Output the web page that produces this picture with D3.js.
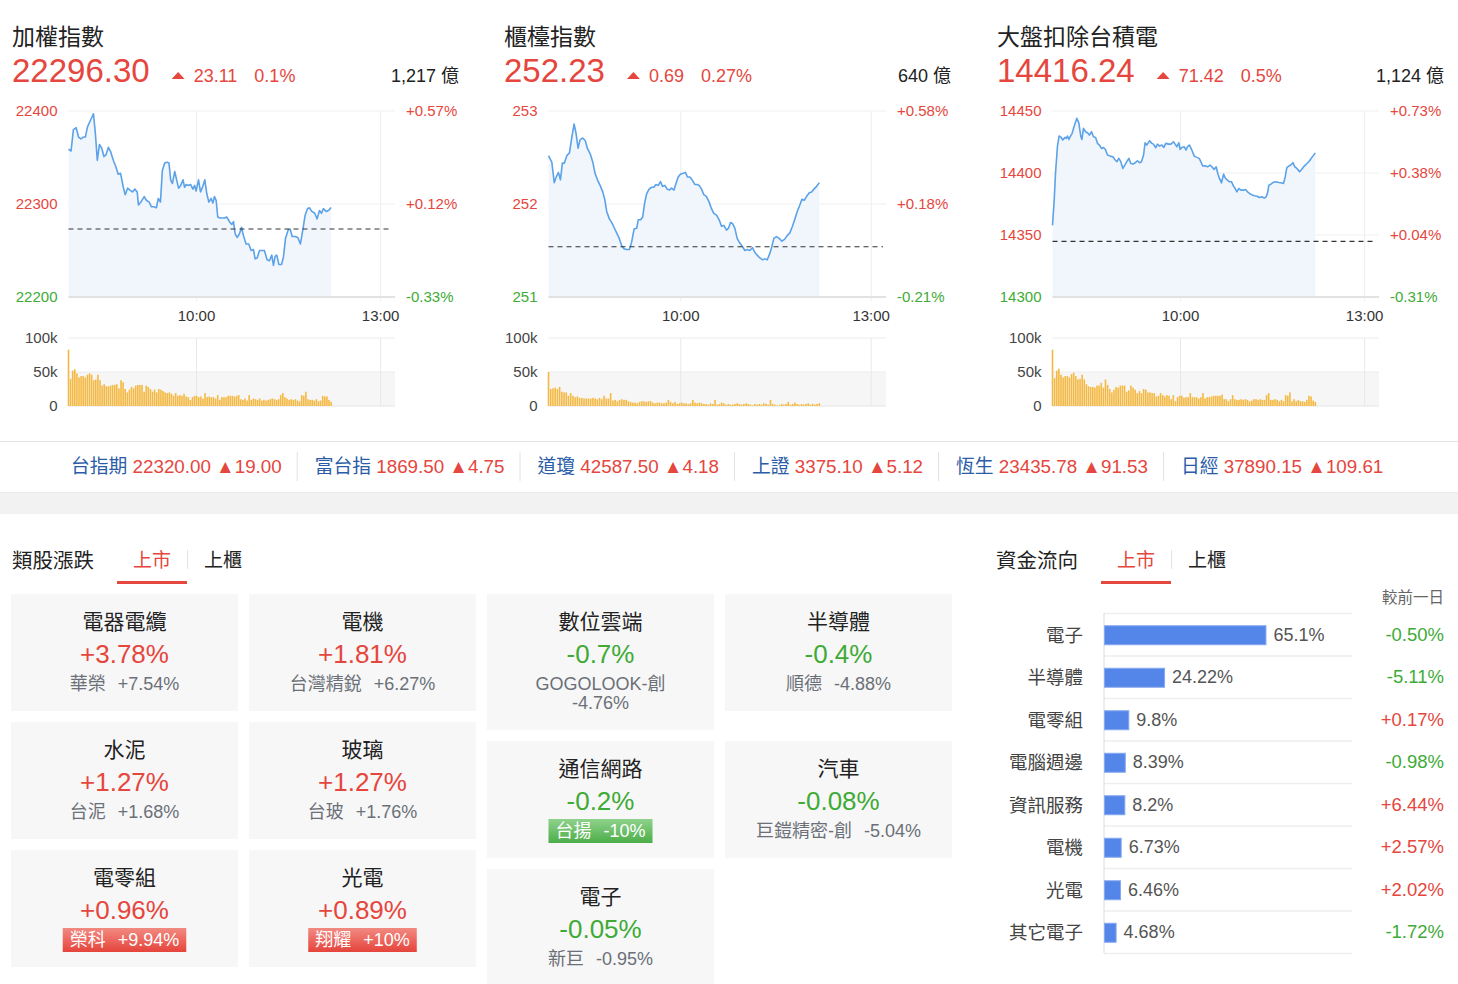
<!DOCTYPE html>
<html>
<head>
<meta charset="utf-8">
<script src="https://cdn.jsdelivr.net/npm/d3@7"></script>
<style>
body { margin: 0; background: #fff; }
svg { display: block; font-family: "Helvetica Neue", Helvetica, Arial, "Liberation Sans", "Noto Sans CJK TC", sans-serif; }
</style>
</head>
<body>
<svg id="page" width="1458" height="984"></svg>
<script>
// ---- index headers
const indexNames = ["加權指數", "櫃檯指數", "大盤扣除台積電"];
const indexLast = [22296.30, 252.23, 14416.24];
const indexChg = [23.11, 0.69, 71.42];
const indexPct = [0.1, 0.27, 0.5];
const indexAmount = [1217, 640, 1124];

// ---- intraday series (minutes after 9:00, value)
const taiexMin = [0,1.2,2.3,3.6,4.7,5.8,7.0,7.9,8.9,10.1,11.7,12.6,13.5,14.5,15.6,16.6,17.6,18.7,19.8,21.0,22.2,23.3,24.4,25.7,26.6,27.7,28.8,30.0,31.1,32.2,32.8,34.2,35.5,36.5,37.8,38.9,40.0,41.2,42.1,43.1,44.0,45.1,46.2,47.1,47.9,48.7,49.8,50.7,51.6,52.6,53.7,54.4,55.2,56.3,57.2,58.3,59.1,59.8,62.0,63.9,66.2,68.1,70.1,72.1,74.3,76.0,77.6,79.2,80.8,83.1,87.4,89.6,92.2,94.5,96.2,97.8,99.7,102.0,104.0,105.9,108.5,111.1,113.4,115.7,117.3,119.3,121.6,123.8,126.4,129.0,131.3,133.6,135.2,136.9,138.5,140.5,143.1,145.0,147.0,149.6,151.6,153.5,156.5,159.0,161.6,163.9,166.2,168.5,170.4,172.7,175.6,177.9,180.2,182.2,184.1,186.8,189.0,191.6];
const taiexVal = [22359,22357,22380,22382,22372,22370,22372,22372,22383,22389,22397,22376,22347,22364,22360,22351,22353,22361,22356,22347,22340,22332,22333,22318,22310,22317,22315,22313,22316,22313,22299,22303,22308,22304,22302,22297,22297,22296,22306,22302,22336,22344,22345,22344,22326,22322,22335,22326,22317,22320,22326,22318,22321,22320,22321,22316,22320,22314,22326,22313,22319,22326,22311,22302,22306,22301,22308,22304,22286,22285,22285,22286,22281,22278,22281,22268,22264,22268,22275,22266,22257,22257,22250,22251,22241,22242,22250,22250,22250,22240,22239,22245,22234,22244,22245,22235,22235,22243,22263,22272,22273,22265,22265,22264,22257,22272,22288,22295,22296,22292,22290,22284,22293,22290,22295,22292,22293,22296.3];

const otcMin = [0,1.5,2.6,3.5,4.5,5.4,6.3,7.2,8.3,9.5,10.6,11.6,12.5,13.4,14.3,15.5,16.7,17.6,18.9,20.1,21.1,22.2,23.4,24.6,25.6,26.4,27.6,28.7,29.7,30.9,32.1,33.2,34.2,35.4,36.7,37.7,38.8,40.0,40.7,41.8,42.7,43.6,44.5,45.6,46.8,47.8,48.7,49.8,50.8,51.7,52.8,53.8,54.8,55.8,56.9,57.8,58.8,59.8,62.2,64.4,66.3,68.5,70.7,73.2,75.5,77.4,79.6,81.8,84.3,86.8,89.0,91.2,93.8,96.3,98.5,100.7,103.2,105.1,107.0,108.9,111.1,113.3,115.8,118.4,120.6,122.8,125.3,127.8,130.0,132.2,134.8,137.3,139.5,141.7,143.6,145.8,148.0,150.5,153.0,155.6,158.1,160.6,163.1,165.6,167.9,170.1,172.6,174.5,176.7,178.9,181.5,183.7,185.9,188.4,191.0];
const otcVal = [252.52,252.45,252.23,252.29,252.34,252.26,252.44,252.44,252.52,252.55,252.72,252.86,252.76,252.60,252.69,252.71,252.68,252.60,252.54,252.45,252.33,252.26,252.20,252.13,252.04,251.92,251.84,251.80,251.75,251.69,251.63,251.55,251.52,251.51,251.51,251.59,251.73,251.74,251.83,251.83,251.86,252.01,252.11,252.16,252.18,252.18,252.21,252.20,252.24,252.19,252.20,252.16,252.15,252.17,252.15,252.22,252.29,252.32,252.33,252.34,252.29,252.29,252.26,252.21,252.21,252.20,252.16,252.10,252.08,252.02,251.95,251.90,251.88,251.83,251.76,251.77,251.72,251.74,251.80,251.79,251.74,251.63,251.58,251.54,251.50,251.51,251.50,251.53,251.48,251.45,251.42,251.40,251.41,251.40,251.45,251.53,251.63,251.65,251.63,251.60,251.62,251.66,251.69,251.76,251.84,251.92,251.99,252.05,252.04,252.08,252.12,252.13,252.16,252.19,252.23];

const exTsmcMin = [0,0.8,1.4,2.3,3.1,4.1,4.8,5.8,6.4,7.0,7.7,8.3,9.2,10.2,11.4,12.3,13.3,13.8,14.5,15.5,16.4,17.3,18.3,19.2,20.2,21.1,22.0,23.0,23.9,24.8,25.8,27.0,28.3,29.2,30.2,31.1,32.0,33.0,33.9,34.8,35.8,36.7,37.7,38.8,39.8,40.8,41.7,42.7,43.4,44.2,45.5,46.6,47.3,48.4,49.2,50.2,51.3,52.2,53.1,54.4,55.5,56.7,57.5,58.3,59.2,59.8,61.3,63.6,65.5,66.8,68.8,71.1,73.4,76.0,78.3,79.9,81.8,84.1,86.4,89.0,90.6,92.9,94.9,96.5,98.1,100.1,102.1,104.0,106.0,107.9,109.9,111.8,113.5,115.1,117.1,119.0,121.6,123.6,125.5,127.5,129.8,132.1,134.7,137.3,139.6,141.8,143.8,145.1,146.4,148.4,151.0,153.6,155.9,158.1,160.7,162.4,164.0,166.0,167.9,169.9,171.8,173.8,176.4,178.4,181.0,183.6,186.2,188.5,191.8];
const exTsmcVal = [14357.9,14378.1,14399.6,14421.2,14429.8,14428.7,14426.6,14428.7,14427.9,14429.8,14427.1,14429.3,14432.0,14437.9,14444.1,14440.6,14429.3,14427.1,14436.0,14433.3,14432.5,14430.6,14433.3,14429.3,14428.7,14423.9,14422.5,14419.8,14420.6,14419.0,14414.5,14413.6,14413.1,14410.9,14409.1,14411.8,14409.1,14403.7,14406.4,14409.1,14411.8,14407.7,14407.2,14408.3,14409.9,14408.3,14409.1,14414.5,14424.4,14422.5,14426.0,14423.9,14423.3,14420.4,14423.3,14421.7,14422.5,14420.6,14423.9,14423.3,14423.3,14425.2,14423.3,14421.2,14424.4,14419.0,14420.6,14421.2,14418.5,14421.2,14422.5,14418.5,14413.6,14412.6,14411.8,14409.1,14405.6,14405.8,14405.0,14406.4,14405.0,14402.9,14405.0,14399.6,14395.6,14392.1,14399.1,14395.6,14394.3,14392.9,14392.9,14389.4,14387.5,14384.8,14387.5,14386.2,14386.2,14386.7,14384.8,14383.5,14382.4,14381.6,14381.3,14380.2,14380.8,14379.7,14380.8,14384.0,14390.2,14391.0,14392.6,14392.9,14392.4,14392.1,14391.6,14397.0,14404.5,14405.6,14406.4,14408.3,14405.0,14403.7,14401.0,14402.9,14405.6,14407.7,14409.9,14412.6,14416.24];

// ---- volume bars (k)
const taiexVol = [83,40,52,54,48,42,44,44,42,46,48,46,38,39,46,38,30,32,29,29,30,31,31,32,26,38,35,25,20,24,28,26,30,31,31,31,21,30,28,25,21,24,20,25,24,22,20,19,20,18,15,19,15,16,15,18,14,13,9,13,15,15,13,14,11,19,13,14,13,13,11,16,9,13,13,13,15,15,15,14,15,16,10,9,11,8,16,9,11,10,9,11,8,9,8,9,10,11,10,9,10,16,19,13,11,9,10,9,10,8,7,16,15,21,10,9,9,8,10,7,8,15,14,14,9,6];
const otcVol = [50,25,26,27,25,28,21,20,20,15,19,15,13,14,12,12,11,11,11,11,12,11,10,12,10,15,11,11,19,8,9,7,9,10,9,9,7,6,5,5,4,6,7,7,6,7,7,5,4,5,5,4,4,5,9,6,4,6,3,4,5,4,4,3,4,9,5,4,5,4,3,3,2,4,3,9,2,3,5,4,2,3,2,2,3,4,3,2,3,4,3,2,1,3,2,3,2,4,3,2,9,3,2,1,1,3,2,3,6,2,3,5,3,2,3,2,3,4,2,3,2,3,4];
const exTsmcVol = [83,41,52,55,46,42,44,44,42,47,49,44,39,40,46,39,32,29,28,28,27,30,30,34,27,39,31,25,20,24,28,27,30,30,30,21,23,30,27,24,19,22,19,25,24,20,20,19,19,14,15,19,16,14,16,15,10,16,7,13,15,15,12,13,13,19,13,13,13,11,13,19,11,13,13,14,15,15,15,15,17,10,10,7,10,16,10,9,9,10,9,10,9,7,8,10,10,9,10,9,9,16,19,9,9,10,9,7,9,7,16,15,20,7,10,7,9,7,7,6,9,15,14,8,6];

const taiexTicks = [22200, 22300, 22400];
const otcTicks = [251, 252, 253];
const exTsmcTicks = [14300, 14350, 14400, 14450];
const timeTicks = [60, 240];
const timeLabels = ["10:00", "13:00"];
const volTicks = [0, 50, 100];

// ---- ticker strip
const tickerNames = ["台指期", "富台指", "道瓊", "上證", "恆生", "日經"];
const tickerVals = [22320.00, 1869.50, 42587.50, 3375.10, 23435.78, 37890.15];
const tickerChg = [19.00, 4.75, 4.18, 5.12, 91.53, 109.61];

// ---- sector tiles
const sectorNames = ["電器電纜", "電機", "水泥", "玻璃", "電零組", "光電", "數位雲端", "半導體", "通信網路", "汽車", "電子"];
const sectorPct = [3.78, 1.81, 1.27, 1.27, 0.96, 0.89, -0.7, -0.4, -0.2, -0.08, -0.05];
const leaderName = ["華榮", "台灣精銳", "台泥", "台玻", "榮科", "翔耀", "GOGOLOOK-創", "順德", "台揚", "巨鎧精密-創", "新巨"];
const leaderPct = [7.54, 6.27, 1.68, 1.76, 9.94, 10, -4.76, -4.88, -10, -5.04, -0.95];

// ---- fund flow
const flowNames = ["電子", "半導體", "電零組", "電腦週邊", "資訊服務", "電機", "光電", "其它電子"];
const flowShare = [65.1, 24.22, 9.8, 8.39, 8.2, 6.73, 6.46, 4.68];
const flowChange = [-0.50, -5.11, 0.17, -0.98, 6.44, 2.57, 2.02, -1.72];

const RED = "#e5463d", GREEN = "#3eab36", BLUE_LINE = "#5ca2e8";
const signed = (v, d) => (v > 0 ? "+" : v < 0 ? "-" : "") + (d == null ? String(Math.abs(v)) : Math.abs(v).toFixed(d)) + "%";

const svg = d3.select("#page");
svg.append("rect").attr("width", 1458).attr("height", 984).attr("fill", "#fff");

const defs = svg.append("defs");
[["badgeUp", "#f28a82", "#e5443b"], ["badgeDown", "#8fd28c", "#4cae48"]].forEach(([id, a, b]) => {
  const gr = defs.append("linearGradient").attr("id", id).attr("x1", 0).attr("y1", 0).attr("x2", 0).attr("y2", 1);
  gr.append("stop").attr("offset", "0%").attr("stop-color", a);
  gr.append("stop").attr("offset", "100%").attr("stop-color", b);
});

// ================= index panels =================
const panels = [
  { i: 0, min: taiexMin, val: taiexVal, vol: taiexVol, ticks: taiexTicks, x: 12, L: 68.5, R: 395 },
  { i: 1, min: otcMin, val: otcVal, vol: otcVol, ticks: otcTicks, x: 504, L: 548.5, R: 886 },
  { i: 2, min: exTsmcMin, val: exTsmcVal, vol: exTsmcVol, ticks: exTsmcTicks, x: 997, L: 1052.5, R: 1379 }
];

panels.forEach(p => {
  const g = svg.append("g");
  const last = indexLast[p.i], chg = indexChg[p.i];
  const prev = last - chg;
  const w = p.R - p.L;

  // header
  g.append("text").attr("x", p.x).attr("y", 45).attr("font-size", 23).attr("fill", "#222").text(indexNames[p.i]);
  const big = g.append("text").attr("x", p.x).attr("y", 82).attr("font-size", 33).attr("fill", RED).text(last.toFixed(2));
  const tx = p.x + big.node().getComputedTextLength() + 22;
  g.append("path").attr("d", `M${tx},79L${tx + 13},79L${tx + 6.5},72Z`).attr("fill", RED);
  const ct = g.append("text").attr("x", tx + 22).attr("y", 82).attr("font-size", 18).attr("fill", RED).text(chg.toFixed(2));
  const cEnd = tx + 22 + ct.node().getComputedTextLength();
  g.append("text").attr("x", cEnd + 17).attr("y", 82).attr("font-size", 18).attr("fill", RED).text(indexPct[p.i] + "%");
  g.append("text").attr("x", p.x + 447).attr("y", 82).attr("text-anchor", "end").attr("font-size", 18).attr("fill", "#222")
    .text(d3.format(",")(indexAmount[p.i]) + " 億");

  // scales
  const x = d3.scaleLinear().domain([0, 60, 240, 254]).range([p.L, p.L + 0.392 * w, p.L + 0.956 * w, p.R]);
  const y = d3.scaleLinear().domain(d3.extent(p.ticks)).range([297, 111]);
  const pts = p.min.map((m, k) => [m, p.val[k]]);

  // grid
  g.selectAll(null).data(timeTicks).join("line")
    .attr("x1", d => x(d)).attr("x2", d => x(d)).attr("y1", 111).attr("y2", 301)
    .attr("stroke", "#ededed");
  g.selectAll(null).data(p.ticks).join("line")
    .attr("x1", p.L).attr("x2", p.R).attr("y1", d => y(d)).attr("y2", d => y(d))
    .attr("stroke", (d, k) => k === 0 ? "#e2e2e2" : "#efefef").attr("stroke-width", (d, k) => k === 0 ? 2 : 1);

  // area + line
  g.append("path").datum(pts)
    .attr("d", d3.area().x(d => x(d[0])).y0(y(p.ticks[0]) - 1).y1(d => y(d[1])))
    .attr("fill", "#f1f6fc");
  g.append("path").datum(pts)
    .attr("d", d3.line().x(d => x(d[0])).y(d => y(d[1])))
    .attr("fill", "none").attr("stroke", BLUE_LINE).attr("stroke-width", 1.6).attr("stroke-linejoin", "round");

  // previous close
  g.append("line").attr("x1", p.L).attr("x2", p.R - 3).attr("y1", y(prev)).attr("y2", y(prev))
    .attr("stroke", "#333").attr("stroke-width", 1.1).attr("stroke-dasharray", "5,4");

  // axis labels
  const tickColor = d => d > prev ? RED : GREEN;
  g.selectAll(null).data(p.ticks).join("text")
    .attr("x", p.L - 11).attr("y", d => y(d)).attr("dy", "0.35em").attr("text-anchor", "end")
    .attr("font-size", 15).attr("fill", tickColor).text(d => d);
  g.selectAll(null).data(p.ticks).join("text")
    .attr("x", p.R + 11).attr("y", d => y(d)).attr("dy", "0.35em")
    .attr("font-size", 15).attr("fill", tickColor).text(d => signed((d / prev - 1) * 100, 2));
  g.selectAll(null).data(timeTicks).join("text")
    .attr("x", d => x(d)).attr("y", 316).attr("dy", "0.35em").attr("text-anchor", "middle")
    .attr("font-size", 15).attr("fill", "#333").text((d, k) => timeLabels[k]);

  // volume
  const yv = d3.scaleLinear().domain([0, 100]).range([406, 338]);
  g.append("rect").attr("x", p.L).attr("width", w).attr("y", yv(50)).attr("height", yv(0) - yv(50)).attr("fill", "#f6f6f6");
  g.selectAll(null).data(volTicks).join("line")
    .attr("x1", p.L).attr("x2", p.R).attr("y1", d => yv(d)).attr("y2", d => yv(d))
    .attr("stroke", d => d === 0 ? "#e6e6e6" : "#ececec");
  g.selectAll(null).data(timeTicks).join("line")
    .attr("x1", d => x(d)).attr("x2", d => x(d)).attr("y1", yv(100)).attr("y2", yv(0))
    .attr("stroke", "#e8e8e8");
  g.selectAll(null).data(volTicks).join("text")
    .attr("x", p.L - 11).attr("y", d => yv(d)).attr("dy", "0.35em").attr("text-anchor", "end")
    .attr("font-size", 15).attr("fill", "#444").text(d => d === 0 ? "0" : d + "k");
  const xb = d3.scaleLinear().domain([0, p.vol.length - 1]).range([x(0), x(d3.max(p.min))]);
  g.selectAll(null).data(p.vol).join("rect")
    .attr("x", (d, k) => xb(k) - 0.8).attr("width", 1.6)
    .attr("y", d => yv(d)).attr("height", d => yv(0) - yv(d))
    .attr("fill", "#f5b942");
});

// ================= ticker strip =================
svg.append("line").attr("x1", 0).attr("x2", 1458).attr("y1", 441.5).attr("y2", 441.5).attr("stroke", "#e4e4e4");
svg.append("rect").attr("x", 0).attr("y", 492).attr("width", 1458).attr("height", 22).attr("fill", "#f2f2f2");
svg.append("line").attr("x1", 0).attr("x2", 1458).attr("y1", 492.5).attr("y2", 492.5).attr("stroke", "#ebebeb");

let tickX = 71;
tickerNames.forEach((n, k) => {
  const t = svg.append("text").attr("x", tickX).attr("y", 466).attr("dy", "0.35em").attr("font-size", 18.8);
  t.append("tspan").attr("fill", "#2b5ca8").text(n);
  t.append("tspan").attr("fill", RED).text(" " + tickerVals[k].toFixed(2) + " ▲" + tickerChg[k].toFixed(2));
  tickX += t.node().getComputedTextLength();
  if (k < tickerNames.length - 1) {
    svg.append("line").attr("x1", tickX + 15.5).attr("x2", tickX + 15.5).attr("y1", 452).attr("y2", 481).attr("stroke", "#e2e2e2");
    tickX += 33;
  }
});

// ================= section tabs =================
function tabs(x0, title) {
  svg.append("text").attr("x", x0).attr("y", 561).attr("dy", "0.35em").attr("font-size", 20.5).attr("fill", "#222").text(title);
  svg.append("text").attr("x", x0 + 121).attr("y", 560).attr("dy", "0.35em").attr("font-size", 19).attr("fill", RED).text("上市");
  svg.append("rect").attr("x", x0 + 105).attr("y", 581).attr("width", 70).attr("height", 3).attr("fill", RED);
  svg.append("line").attr("x1", x0 + 175.5).attr("x2", x0 + 175.5).attr("y1", 550).attr("y2", 569).attr("stroke", "#e4e4e4");
  svg.append("text").attr("x", x0 + 192).attr("y", 560).attr("dy", "0.35em").attr("font-size", 19).attr("fill", "#222").text("上櫃");
}
tabs(12, "類股漲跌");
tabs(996, "資金流向");

// ================= sector tiles =================
const tileW = 227, tileGap = 11;
const colX = [11, 249, 487, 725];
const upIdx = [], downIdx = [];
sectorNames.forEach((n, k) => (sectorPct[k] > 0 ? upIdx : downIdx).push(k));

function drawTile(k, tx, ty) {
  const g = svg.append("g").attr("transform", `translate(${tx},${ty})`);
  const cx = tileW / 2;
  const color = sectorPct[k] > 0 ? RED : GREEN;
  const bg = g.append("rect").attr("width", tileW).attr("fill", "#f7f7f7");
  g.append("text").attr("x", cx).attr("y", 28).attr("dy", "0.35em").attr("text-anchor", "middle")
    .attr("font-size", 21).attr("fill", "#222").text(sectorNames[k]);
  g.append("text").attr("x", cx).attr("y", 60).attr("dy", "0.35em").attr("text-anchor", "middle")
    .attr("font-size", 26).attr("fill", color).text(signed(sectorPct[k]));
  const lp = leaderPct[k];
  const limit = Math.abs(lp) >= 9.9;
  let h = 117;
  const badge = g.append("rect");
  const t = g.append("text").attr("x", cx).attr("y", 90).attr("dy", "0.35em").attr("text-anchor", "middle")
    .attr("font-size", 18).attr("fill", limit ? "#fff" : "#6b7078");
  t.append("tspan").text(leaderName[k]);
  t.append("tspan").attr("dx", 12).text(signed(lp));
  const tw = t.node().getComputedTextLength() + 12;
  if (limit) {
    badge.attr("x", cx - tw / 2 - 7).attr("y", 78).attr("width", tw + 14).attr("height", 24)
      .attr("fill", lp > 0 ? "url(#badgeUp)" : "url(#badgeDown)");
  } else {
    badge.remove();
    if (tw > 193) {
      t.remove();
      [leaderName[k], signed(lp)].forEach((s, j) => {
        g.append("text").attr("x", cx).attr("y", 90 + j * 19).attr("dy", "0.35em").attr("text-anchor", "middle")
          .attr("font-size", 18).attr("fill", "#6b7078").text(s);
      });
      h = 136;
    }
  }
  bg.attr("height", h);
  return h;
}

// two groups (up / down), each a two-column grid whose rows take the tallest tile
[upIdx, downIdx].forEach((grp, gi) => {
  let rowY = 594;
  for (let j = 0; j < grp.length; j += 2) {
    const hs = grp.slice(j, j + 2).map((k, c) => drawTile(k, colX[gi * 2 + c], rowY));
    rowY += d3.max(hs) + tileGap;
  }
});

// ================= fund flow =================
svg.append("text").attr("x", 1444).attr("y", 598).attr("dy", "0.35em").attr("text-anchor", "end")
  .attr("font-size", 15.5).attr("fill", "#666").text("較前一日");

const fx = d3.scaleLinear().domain([0, 100]).range([1104, 1352]);
const fy = d3.scaleBand().domain(flowNames).range([613, 953]);
const ff = svg.append("g");
ff.selectAll(null).data(flowNames.concat(["__end"])).join("line")
  .attr("x1", fx(0)).attr("x2", fx(100))
  .attr("y1", d => (d === "__end" ? 953 : fy(d)) + 0.5).attr("y2", d => (d === "__end" ? 953 : fy(d)) + 0.5)
  .attr("stroke", "#eeeeee").attr("stroke-width", 1.5);
ff.append("line").attr("x1", fx(0)).attr("x2", fx(0)).attr("y1", 613).attr("y2", 953).attr("stroke", "#dcdcdc");
const barH = 19;
ff.selectAll(null).data(flowNames).join("rect")
  .attr("x", fx(0) + 0.5).attr("y", d => fy(d) + (fy.bandwidth() - barH) / 2 + 1)
  .attr("width", (d, k) => fx(flowShare[k]) - fx(0)).attr("height", barH)
  .attr("fill", "#5386e8").attr("stroke", "#86a9ef").attr("stroke-width", 1);
ff.selectAll(null).data(flowNames).join("text")
  .attr("x", 1083).attr("y", d => fy(d) + fy.bandwidth() / 2 + 1).attr("dy", "0.35em").attr("text-anchor", "end")
  .attr("font-size", 18.5).attr("fill", "#444").text(d => d);
ff.selectAll(null).data(flowNames).join("text")
  .attr("x", (d, k) => fx(flowShare[k]) + 8).attr("y", d => fy(d) + fy.bandwidth() / 2).attr("dy", "0.35em")
  .attr("font-size", 18).attr("fill", "#555").text((d, k) => flowShare[k] + "%");
ff.selectAll(null).data(flowNames).join("text")
  .attr("x", 1444).attr("y", d => fy(d) + fy.bandwidth() / 2).attr("dy", "0.35em").attr("text-anchor", "end")
  .attr("font-size", 18.5).attr("fill", (d, k) => flowChange[k] > 0 ? RED : GREEN)
  .text((d, k) => signed(flowChange[k], 2));
</script>
</body>
</html>
